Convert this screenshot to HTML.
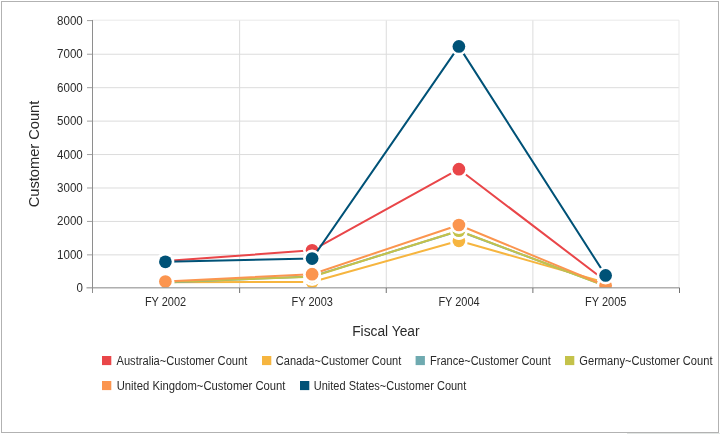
<!DOCTYPE html>
<html><head><meta charset="utf-8"><title>Chart</title>
<style>
html,body{margin:0;padding:0;background:#fff;}
body{width:720px;height:434px;overflow:hidden;}
svg{display:block;}
text{font-family:"Liberation Sans",sans-serif;fill:#2a2a2a;}
.lb{font-size:12px;}
.tt{font-size:14.9px;}
</style></head><body>
<svg width="720" height="434" viewBox="0 0 720 434">
<defs><clipPath id="pc"><rect x="86" y="10" width="600" height="277.6"/></clipPath></defs>
<rect x="0" y="0" width="720" height="434" fill="#fff"/>
<rect x="1.5" y="1.5" width="717" height="431" fill="none" stroke="#b2b2b2" stroke-width="1"/>
<rect x="627" y="433" width="93" height="1" fill="#e2e6e4"/>
<g stroke="#dcdcdc" stroke-width="1" fill="none"><line x1="92" y1="254.86" x2="679" y2="254.86"/><line x1="92" y1="221.43" x2="679" y2="221.43"/><line x1="92" y1="187.99" x2="679" y2="187.99"/><line x1="92" y1="154.55" x2="679" y2="154.55"/><line x1="92" y1="121.11" x2="679" y2="121.11"/><line x1="92" y1="87.68" x2="679" y2="87.68"/><line x1="92" y1="54.24" x2="679" y2="54.24"/><line x1="239.62" y1="20" x2="239.62" y2="288"/><line x1="386.25" y1="20" x2="386.25" y2="288"/><line x1="532.88" y1="20" x2="532.88" y2="288"/></g>
<path d="M92 20.2H679V288" stroke="#e9e9e9" stroke-width="1" fill="none"/>
<g clip-path="url(#pc)">
<polyline points="165.4,261.1 312.1,250.3 458.9,169.2 605.6,281.0" fill="none" stroke="#E94649" stroke-width="2" stroke-linejoin="round"/>
<circle cx="165.4" cy="261.1" r="9" fill="#fff"/><circle cx="165.4" cy="261.1" r="6.35" fill="#E94649"/><circle cx="312.1" cy="250.3" r="9" fill="#fff"/><circle cx="312.1" cy="250.3" r="6.35" fill="#E94649"/><circle cx="458.9" cy="169.2" r="9" fill="#fff"/><circle cx="458.9" cy="169.2" r="6.35" fill="#E94649"/><circle cx="605.6" cy="281.0" r="9" fill="#fff"/><circle cx="605.6" cy="281.0" r="6.35" fill="#E94649"/>
<polyline points="165.4,282.2 312.1,282.0 458.9,240.8 605.6,282.6" fill="none" stroke="#F6B53F" stroke-width="2" stroke-linejoin="round"/>
<circle cx="165.4" cy="282.2" r="9" fill="#fff"/><circle cx="165.4" cy="282.2" r="6.35" fill="#F6B53F"/><circle cx="312.1" cy="282.0" r="9" fill="#fff"/><circle cx="312.1" cy="282.0" r="6.35" fill="#F6B53F"/><circle cx="458.9" cy="240.8" r="9" fill="#fff"/><circle cx="458.9" cy="240.8" r="6.35" fill="#F6B53F"/><circle cx="605.6" cy="282.6" r="9" fill="#fff"/><circle cx="605.6" cy="282.6" r="6.35" fill="#F6B53F"/>
<polyline points="165.4,282.6 312.1,276.4 458.9,231.0 605.6,285.8" fill="none" stroke="#6FAAB0" stroke-width="2" stroke-linejoin="round"/>
<circle cx="165.4" cy="282.6" r="9" fill="#fff"/><circle cx="165.4" cy="282.6" r="6.35" fill="#6FAAB0"/><circle cx="312.1" cy="276.4" r="9" fill="#fff"/><circle cx="312.1" cy="276.4" r="6.35" fill="#6FAAB0"/><circle cx="458.9" cy="231.0" r="9" fill="#fff"/><circle cx="458.9" cy="231.0" r="6.35" fill="#6FAAB0"/><circle cx="605.6" cy="285.8" r="9" fill="#fff"/><circle cx="605.6" cy="285.8" r="6.35" fill="#6FAAB0"/>
<polyline points="165.4,282.0 312.1,276.8 458.9,230.7 605.6,286.0" fill="none" stroke="#C4C24A" stroke-width="2" stroke-linejoin="round"/>
<circle cx="165.4" cy="282.0" r="9" fill="#fff"/><circle cx="165.4" cy="282.0" r="6.35" fill="#C4C24A"/><circle cx="312.1" cy="276.8" r="9" fill="#fff"/><circle cx="312.1" cy="276.8" r="6.35" fill="#C4C24A"/><circle cx="458.9" cy="230.7" r="9" fill="#fff"/><circle cx="458.9" cy="230.7" r="6.35" fill="#C4C24A"/><circle cx="605.6" cy="286.0" r="9" fill="#fff"/><circle cx="605.6" cy="286.0" r="6.35" fill="#C4C24A"/>
<polyline points="165.4,281.5 312.1,274.2 458.9,225.0 605.6,285.6" fill="none" stroke="#FB954F" stroke-width="2" stroke-linejoin="round"/>
<circle cx="165.4" cy="281.5" r="9" fill="#fff"/><circle cx="165.4" cy="281.5" r="6.35" fill="#FB954F"/><circle cx="312.1" cy="274.2" r="9" fill="#fff"/><circle cx="312.1" cy="274.2" r="6.35" fill="#FB954F"/><circle cx="458.9" cy="225.0" r="9" fill="#fff"/><circle cx="458.9" cy="225.0" r="6.35" fill="#FB954F"/><circle cx="605.6" cy="285.6" r="9" fill="#fff"/><circle cx="605.6" cy="285.6" r="6.35" fill="#FB954F"/>
<polyline points="165.4,261.8 312.1,258.6 458.9,46.4 605.6,275.4" fill="none" stroke="#005277" stroke-width="2" stroke-linejoin="round"/>
<circle cx="165.4" cy="261.8" r="9" fill="#fff"/><circle cx="165.4" cy="261.8" r="6.35" fill="#005277"/><circle cx="312.1" cy="258.6" r="9" fill="#fff"/><circle cx="312.1" cy="258.6" r="6.35" fill="#005277"/><circle cx="458.9" cy="46.4" r="9" fill="#fff"/><circle cx="458.9" cy="46.4" r="6.35" fill="#005277"/><circle cx="605.6" cy="275.4" r="9" fill="#fff"/><circle cx="605.6" cy="275.4" r="6.35" fill="#005277"/>
</g>
<line x1="86.5" y1="287.85" x2="679.8" y2="287.85" stroke="#858585" stroke-width="1"/>
<line x1="92.5" y1="20" x2="92.5" y2="293" stroke="#8e8e8e" stroke-width="1"/>
<g stroke="#a0a0a0" stroke-width="1"><line x1="87" y1="254.86" x2="92" y2="254.86"/><line x1="87" y1="221.43" x2="92" y2="221.43"/><line x1="87" y1="187.99" x2="92" y2="187.99"/><line x1="87" y1="154.55" x2="92" y2="154.55"/><line x1="87" y1="121.11" x2="92" y2="121.11"/><line x1="87" y1="87.68" x2="92" y2="87.68"/><line x1="87" y1="54.24" x2="92" y2="54.24"/><line x1="87" y1="20.60" x2="92" y2="20.60"/></g>
<g stroke="#707070" stroke-width="1"><line x1="239.625" y1="288" x2="239.625" y2="293"/><line x1="386.250" y1="288" x2="386.250" y2="293"/><line x1="532.875" y1="288" x2="532.875" y2="293"/><line x1="679.500" y1="288" x2="679.500" y2="293"/></g>
<text class="lb" x="76.4" y="292.2" textLength="6.4" lengthAdjust="spacingAndGlyphs">0</text><text class="lb" x="57.1" y="258.8" textLength="25.7" lengthAdjust="spacingAndGlyphs">1000</text><text class="lb" x="57.1" y="225.4" textLength="25.7" lengthAdjust="spacingAndGlyphs">2000</text><text class="lb" x="57.1" y="191.9" textLength="25.7" lengthAdjust="spacingAndGlyphs">3000</text><text class="lb" x="57.1" y="158.5" textLength="25.7" lengthAdjust="spacingAndGlyphs">4000</text><text class="lb" x="57.1" y="125.1" textLength="25.7" lengthAdjust="spacingAndGlyphs">5000</text><text class="lb" x="57.1" y="91.6" textLength="25.7" lengthAdjust="spacingAndGlyphs">6000</text><text class="lb" x="57.1" y="58.2" textLength="25.7" lengthAdjust="spacingAndGlyphs">7000</text><text class="lb" x="57.1" y="24.8" textLength="25.7" lengthAdjust="spacingAndGlyphs">8000</text>
<text class="lb" x="144.9" y="305.8" textLength="41.3" lengthAdjust="spacingAndGlyphs">FY 2002</text><text class="lb" x="291.6" y="305.8" textLength="41.3" lengthAdjust="spacingAndGlyphs">FY 2003</text><text class="lb" x="438.4" y="305.8" textLength="41.3" lengthAdjust="spacingAndGlyphs">FY 2004</text><text class="lb" x="585.1" y="305.8" textLength="41.3" lengthAdjust="spacingAndGlyphs">FY 2005</text>
<text class="tt" x="352.2" y="336.2" textLength="67.4" lengthAdjust="spacingAndGlyphs">Fiscal Year</text>
<text class="tt" transform="translate(39.2,207.3) rotate(-90)" x="0" y="0" textLength="106.6" lengthAdjust="spacingAndGlyphs">Customer Count</text>
<rect x="102" y="356" width="9.3" height="9.1" fill="#E94649"/><text class="lb" x="116.5" y="364.5" textLength="130.8" lengthAdjust="spacingAndGlyphs">Australia~Customer Count</text>
<rect x="262" y="356" width="9.3" height="9.1" fill="#F6B53F"/><text class="lb" x="275.8" y="364.5" textLength="125.5" lengthAdjust="spacingAndGlyphs">Canada~Customer Count</text>
<rect x="415.6" y="356" width="9.3" height="9.1" fill="#6FAAB0"/><text class="lb" x="430" y="364.5" textLength="120.8" lengthAdjust="spacingAndGlyphs">France~Customer Count</text>
<rect x="565" y="356" width="9.3" height="9.1" fill="#C4C24A"/><text class="lb" x="579.3" y="364.5" textLength="133.2" lengthAdjust="spacingAndGlyphs">Germany~Customer Count</text>
<rect x="102" y="381" width="9.3" height="9.1" fill="#FB954F"/><text class="lb" x="116.7" y="389.8" textLength="168.8" lengthAdjust="spacingAndGlyphs">United Kingdom~Customer Count</text>
<rect x="300" y="381" width="9.3" height="9.1" fill="#005277"/><text class="lb" x="313.8" y="389.8" textLength="152.5" lengthAdjust="spacingAndGlyphs">United States~Customer Count</text>
</svg>
</body></html>
